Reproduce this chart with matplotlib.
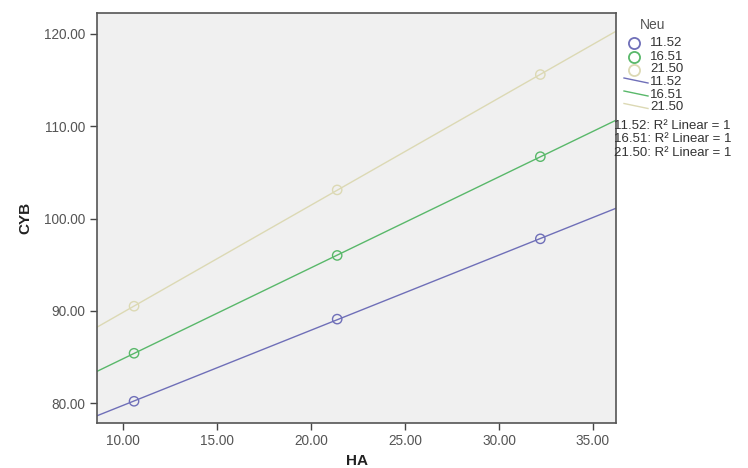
import numpy as np
import matplotlib
matplotlib.use("Agg")
import matplotlib.pyplot as plt
from matplotlib.lines import Line2D

plt.rcParams['font.family'] = ['Liberation Sans', 'DejaVu Sans']

# Data
groups = ["11.52", "16.51", "21.50"]
ha = [10.6, 21.4, 32.2]
cyb_1152 = [80.2, 89.1, 97.8]
cyb_1651 = [85.4, 96.0, 106.7]
cyb_2150 = [90.5, 103.1, 115.6]
series = [cyb_1152, cyb_1651, cyb_2150]
colors = ["#6f6fb8", "#59b86a", "#dcd9b4"]

xlim = (8.63, 36.25)
ylim = (77.9, 122.3)
xticks = [10, 15, 20, 25, 30, 35]
yticks = [80, 90, 100, 110, 120]

W, H = 748, 468
fig = plt.figure(figsize=(W/100, H/100), dpi=100)
ax = fig.add_axes([97/W, 1-422.5/H, (616.5-97)/W, (422.5-12.7)/H])
ax.set_facecolor("#f0f0f0")

xx = np.array(xlim)
for ys, c in zip(series, colors):
    slope, icpt = np.polyfit(ha, ys, 1)
    ax.plot(xx, slope*xx + icpt, color=c, lw=1.0, zorder=2)
    ax.scatter(ha, ys, s=45, facecolors="none", edgecolors=c, linewidths=1.0, zorder=3)

ax.set_xlim(*xlim)
ax.set_ylim(*ylim)
ax.set_xticks(xticks)
ax.set_yticks(yticks)
ax.set_xticklabels([f"{v:.2f}" for v in xticks])
ax.set_yticklabels([f"{v:.2f}" for v in yticks])
ax.tick_params(direction="out", length=5, width=1, colors="#444444", labelsize=9.8, labelcolor="#555555")
for s in ax.spines.values():
    s.set_color("#555555")
    s.set_linewidth(1.2)

ax.set_xlabel("HA", fontsize=11, fontweight="bold", color="#222222", labelpad=4)
ax.set_ylabel("CYB", fontsize=11, fontweight="bold", color="#222222", labelpad=8)

# Legend (placed manually in figure pixels)
def fx(px):
    return px / W

def fy(py):
    return 1 - py / H

LFS = 9.5
fig.text(fx(640), fy(25), "Neu", fontsize=10, color="#555555", va="center", ha="left")
marker_rows = [43, 56.5, 69.5]
line_rows = [82, 95, 107.5]
r2_rows = [126, 139.5, 152.5]
for g, c, y in zip(groups, colors, marker_rows):
    fig.add_artist(Line2D([fx(634)], [fy(y)], marker="o", ls="none", mfc="none",
                          mec=c, ms=8, mew=1.3, transform=fig.transFigure))
    fig.text(fx(650), fy(y), g, fontsize=LFS, color="#333333", va="center", ha="left")
for g, c, y in zip(groups, colors, line_rows):
    fig.add_artist(Line2D([fx(624), fx(648)], [fy(y-4), fy(y+1)], color=c, lw=1.0,
                          transform=fig.transFigure))
    fig.text(fx(650), fy(y), g, fontsize=LFS, color="#333333", va="center", ha="left")
for g, y in zip(groups, r2_rows):
    fig.text(fx(614), fy(y), f"{g}: R\u00b2 Linear = 1", fontsize=LFS, color="#333333",
             va="center", ha="left")

fig.savefig("out.png", dpi=100)
